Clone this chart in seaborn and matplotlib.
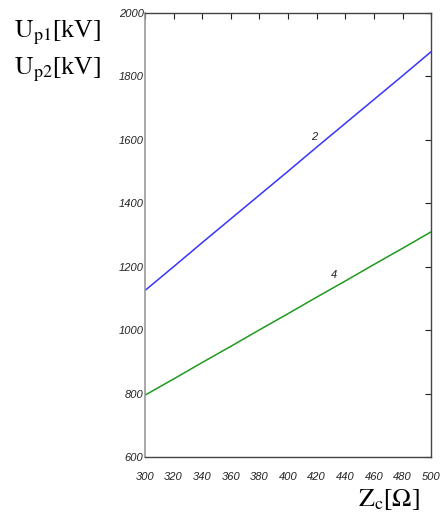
import numpy as np
import pandas as pd
import matplotlib
matplotlib.use("Agg")
import matplotlib.pyplot as plt
import seaborn as sns

# data
zc = [300, 320, 340, 360, 380, 400, 420, 440, 460, 480, 500]
up1 = [1125, 1200, 1276, 1351, 1426, 1501, 1577, 1652, 1727, 1802, 1878]
up2 = [795, 846, 898, 949, 1001, 1052, 1104, 1155, 1207, 1258, 1310]
curve_names = ["2", "4"]

df = pd.DataFrame({
    "Zc": zc * 2,
    "U": up1 + up2,
    "curve": [curve_names[0]] * len(zc) + [curve_names[1]] * len(zc),
})

sns.set_style("white")
plt.rcParams["mathtext.fontset"] = "stix"
tick_font = ["Liberation Sans Narrow", "Liberation Sans", "DejaVu Sans"]

fig = plt.figure(figsize=(4.4, 5.17), dpi=100)
ax = fig.add_axes([0.3295, 0.116, 0.6505, 0.859])

sns.lineplot(data=df, x="Zc", y="U", hue="curve",
             palette={"2": "#3535ff", "4": "#1f9a1f"},
             linewidth=1.1, legend=False, ax=ax)

ax.set_xlim(300, 500)
ax.set_ylim(600, 2000)
ax.set_xticks(np.arange(300, 501, 20))
ax.set_yticks(np.arange(600, 2001, 200))
ax.set_xlabel("")
ax.set_ylabel("")

ax.tick_params(direction="in", length=4, width=0.8, top=True, right=True,
               labelsize=8, colors="#222222")
ax.tick_params(axis="x", pad=11)
ax.tick_params(axis="y", pad=1)
for lab in ax.get_xticklabels() + ax.get_yticklabels():
    lab.set_family(tick_font)
    lab.set_style("italic")

for side in ["top", "right", "bottom"]:
    ax.spines[side].set_color("#444444")
    ax.spines[side].set_linewidth(1.0)
ax.spines["left"].set_color("#999999")
ax.spines["left"].set_linewidth(1.2)

# curve labels
ax.text(416, 1600, "2", fontsize=8, style="italic", family=tick_font,
        color="#222222")
ax.text(430, 1165, "4", fontsize=8, style="italic", family=tick_font,
        color="#222222")

# axis titles in serif
fig.text(0.032, 0.927, r"$\mathrm{U_{p1}}$[kV]", fontsize=18.5,
         family="Liberation Serif", color="black")
fig.text(0.032, 0.856, r"$\mathrm{U_{p2}}$[kV]", fontsize=18.5,
         family="Liberation Serif", color="black")
fig.text(0.813, 0.022, r"$\mathrm{Z_{c}}$[$\Omega$]", fontsize=18.5,
         family="Liberation Serif", color="black")

plt.savefig("out.png", dpi=100)
